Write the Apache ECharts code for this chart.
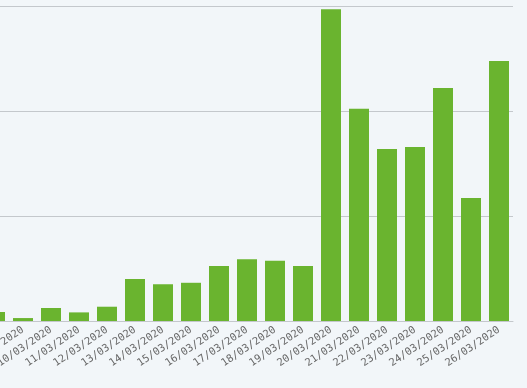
<!DOCTYPE html>
<html><head><meta charset="utf-8">
<script src="https://cdn.jsdelivr.net/npm/echarts@6/dist/echarts.min.js"></script>
<style>html,body{margin:0;padding:0;background:#f2f6f9;}#c{width:527px;height:388px;}</style>
</head><body><div id="c"></div>
<script>
const categories = ["08/03/2020","09/03/2020","10/03/2020","11/03/2020","12/03/2020","13/03/2020","14/03/2020","15/03/2020","16/03/2020","17/03/2020","18/03/2020","19/03/2020","20/03/2020","21/03/2020","22/03/2020","23/03/2020","24/03/2020","25/03/2020","26/03/2020"];
const values = [43,14,62,41,68,200,175,182,262,294,287,262,1484,1011,819,829,1110,586,1238];
const yTicks = [0,500,1000,1500];
const chart = echarts.init(document.getElementById('c'));
chart.setOption({
  backgroundColor:'#f2f6f9',
  animation:false,
  grid:{left:-19,right:14,top:6,bottom:67,containLabel:false,outerBoundsMode:'none'},
  xAxis:{type:'category',data:categories,
    axisLine:{show:true,lineStyle:{color:'#c4c8cc',width:1}},
    axisTick:{show:false},
    axisLabel:{rotate:34,interval:0,margin:8,color:'#666',fontFamily:'DejaVu Sans Mono',fontSize:10.5}},
  yAxis:{type:'value',min:yTicks[0],max:yTicks[yTicks.length-1],interval:500,
    axisLabel:{show:false},axisLine:{show:false},axisTick:{show:false},
    splitLine:{lineStyle:{color:'#c4c8cc',width:1}}},
  series:[{type:'bar',data:values,barWidth:20,itemStyle:{color:'#6ab42f'}}]
});
</script></body></html>
